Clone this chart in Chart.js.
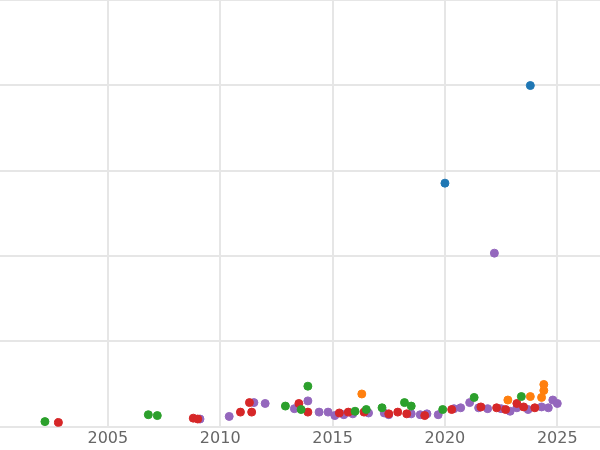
<!DOCTYPE html>
<html><head><meta charset="utf-8">
<script src="https://cdn.jsdelivr.net/npm/chart.js@4"></script>
<style>html,body{margin:0;padding:0;background:#fff;overflow:hidden}#w{width:610px;height:455px;margin-left:-5px;margin-top:-5px}</style>
</head><body><div id="w"><canvas id="c"></canvas></div>
<script>
const blueX=[2023.8,2020.0];
const blueY=[395,282];
const orangeX=[2016.3,2022.8,2023.8,2024.4,2024.4,2024.3];
const orangeY=[38,31,35,42,49,34];
const greenX=[2002.2,2006.8,2007.2,2012.9,2013.6,2013.9,2016.0,2016.5,2017.2,2018.2,2018.5,2019.9,2021.3,2023.4];
const greenY=[6,14,13,24,20,47,18,20,22,28,24,20,34,35];
const redX=[2002.8,2008.8,2009.0,2010.9,2011.3,2011.4,2013.5,2013.9,2015.3,2015.7,2016.4,2017.5,2017.9,2018.3,2019.1,2020.3,2021.6,2022.3,2022.7,2023.2,2023.5,2024.0];
const redY=[5,10,9,17,28,17,27,17,16,17,17,15,17,15,13,20,23,22,20,27,23,22];
const purpleX=[2022.2,2009.1,2010.4,2011.5,2012.0,2013.3,2013.9,2014.4,2014.8,2015.1,2015.5,2015.9,2016.6,2017.3,2017.5,2018.5,2018.9,2019.2,2019.7,2020.4,2020.7,2021.1,2021.5,2021.9,2022.5,2022.9,2023.2,2023.7,2024.3,2024.8,2025.0,2024.6];
const purpleY=[201,9,12,28,27,21,30,17,17,13,14,15,16,16,14,15,14,15,14,21,22,28,22,21,21,18,22,20,23,31,27,22];
const xTicks=[2005,2010,2015,2020,2025];
const mk=(xs,ys)=>xs.map((x,i)=>({x,y:ys[i]}));
const ds=(d,c)=>({data:d,backgroundColor:c,borderColor:c,pointRadius:4,pointHoverRadius:4});
new Chart(document.getElementById('c'),{type:'scatter',
data:{datasets:[ds(mk(greenX,greenY),'#2ca02c'),ds(mk(redX,redY),'#d62728'),ds(mk(orangeX,orangeY),'#ff7f0e'),ds(mk(purpleX,purpleY),'#9467bd'),ds(mk(blueX,blueY),'#1f77b4')]},
options:{responsive:true,maintainAspectRatio:false,animation:false,layout:{padding:0},
plugins:{legend:{display:false},tooltip:{enabled:false}},
scales:{
x:{type:'linear',min:2000.2,max:2026.9,afterBuildTicks:a=>{a.ticks=xTicks.map(v=>({value:v}));},
 ticks:{color:'#666',font:{size:16,family:'DejaVu Sans'},callback:v=>String(v),padding:2},
 grid:{color:'#e6e6e6',lineWidth:2,drawTicks:false},border:{display:false}},
y:{min:0,max:494,ticks:{display:false,stepSize:100},grid:{color:'#e6e6e6',lineWidth:2,drawTicks:false},border:{display:false}}
}}});
</script></body></html>
